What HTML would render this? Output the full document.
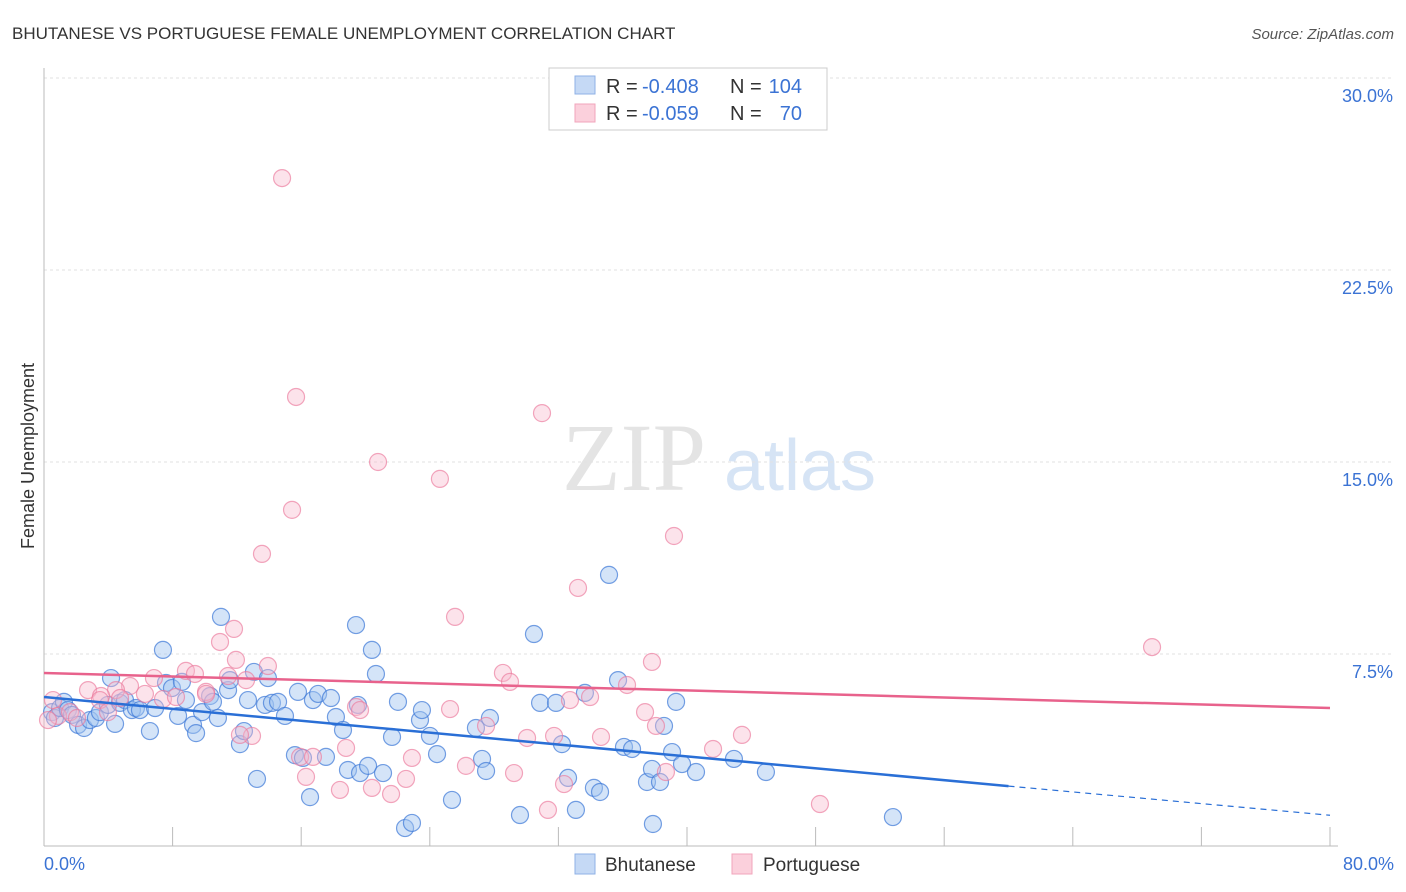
<!DOCTYPE html>
<html><head><meta charset="utf-8"><style>
body{margin:0;background:#fff;font-family:"Liberation Sans",sans-serif}
</style></head><body>
<svg width="1406" height="892" style="display:block">
<text x="12" y="39" font-size="17" fill="#333">BHUTANESE VS PORTUGUESE FEMALE UNEMPLOYMENT CORRELATION CHART</text>
<text x="1394" y="39" font-size="15" fill="#555" text-anchor="end" font-style="italic">Source: ZipAtlas.com</text>
<text x="634" y="490" font-size="96" fill="#e4e4e4" font-family="Liberation Serif" text-anchor="middle">ZIP</text>
<text x="800" y="490" font-size="72" fill="#d6e4f5" text-anchor="middle">atlas</text>
<g id="grid"></g>
<line x1="44" y1="68" x2="44" y2="846" stroke="#bbb"/>
<line x1="44" y1="846" x2="1338" y2="846" stroke="#bbb"/>
<g id="xticks"></g>
<text x="34" y="456" font-size="18" fill="#333" text-anchor="middle" transform="rotate(-90 34 456)">Female Unemployment</text>
<text x="44" y="870" font-size="18" fill="#3b73d4">0.0%</text>
<text x="1394" y="870" font-size="18" fill="#3b73d4" text-anchor="end">80.0%</text>
<g id="pts"></g>
<g id="lines"></g>
<g>
<rect x="549" y="68" width="278" height="62" fill="#fff" stroke="#ccc"/>
<rect x="575" y="76" width="20" height="18" fill="#c5d9f5" stroke="#8fb1e6"/>
<rect x="575" y="104" width="20" height="18" fill="#fbd0dc" stroke="#f1a5bb"/>
<text x="606" y="93" font-size="20" fill="#333">R =</text>
<text x="642" y="93" font-size="20" fill="#3b73d4">-0.408</text>
<text x="730" y="93" font-size="20" fill="#333">N =</text>
<text x="802" y="93" font-size="20" fill="#3b73d4" text-anchor="end">104</text>
<text x="606" y="120" font-size="20" fill="#333">R =</text>
<text x="642" y="120" font-size="20" fill="#3b73d4">-0.059</text>
<text x="730" y="120" font-size="20" fill="#333">N =</text>
<text x="802" y="120" font-size="20" fill="#3b73d4" text-anchor="end">70</text>
</g>
<g>
<rect x="575" y="854" width="20" height="20" fill="#c5d9f5" stroke="#8fb1e6"/>
<text x="605" y="871" font-size="19" fill="#333">Bhutanese</text>
<rect x="732" y="854" width="20" height="20" fill="#fbd0dc" stroke="#f1a5bb"/>
<text x="763" y="871" font-size="19" fill="#333">Portuguese</text>
</g>
</svg>
<script>
const yTicks=[7.5,15,22.5,30];
const yTickLabels=["7.5%","15.0%","22.5%","30.0%"];
const xTicks=[8,16,24,32,40,48,56,64,72,80];
const bluePx=[[52,712],[55,718],[60,708],[64,702],[68,710],[72,715],[78,725],[84,728],[90,720],[96,718],[100,712],[108,705],[111,678],[115,724],[120,703],[125,700],[132,710],[136,708],[140,710],[150,731],[155,708],[163,650],[166,683],[172,688],[178,716],[182,682],[186,700],[193,725],[196,733],[202,712],[210,696],[213,702],[218,718],[221,617],[228,690],[230,680],[240,744],[244,731],[248,700],[254,672],[257,779],[265,705],[268,678],[272,703],[278,702],[285,716],[295,755],[298,692],[303,758],[310,797],[313,700],[318,694],[326,757],[331,698],[336,717],[343,730],[348,770],[356,625],[358,705],[360,773],[368,766],[372,650],[376,674],[383,773],[392,737],[398,702],[405,828],[412,823],[420,720],[422,710],[430,736],[437,754],[452,800],[476,728],[482,759],[486,771],[490,718],[520,815],[534,634],[540,703],[556,703],[562,744],[568,778],[576,810],[585,693],[594,788],[600,792],[609,575],[618,680],[624,747],[632,749],[647,782],[652,769],[653,824],[660,782],[664,726],[672,752],[676,702],[682,764],[696,772],[734,759],[766,772],[893,817]];
const pinkPx=[[282,178],[296,397],[542,413],[378,462],[440,479],[292,510],[674,536],[262,554],[578,588],[455,617],[234,629],[220,642],[1152,647],[652,662],[268,666],[186,671],[195,674],[228,676],[503,673],[510,682],[154,678],[130,686],[88,690],[116,690],[101,696],[145,694],[163,699],[176,697],[206,692],[246,680],[627,685],[590,697],[570,700],[450,709],[356,707],[360,710],[645,712],[656,726],[486,726],[53,700],[58,716],[48,720],[70,712],[77,718],[100,700],[252,736],[240,735],[346,748],[554,736],[601,737],[713,749],[742,735],[527,738],[300,757],[313,757],[306,777],[412,758],[466,766],[514,773],[666,772],[340,790],[391,794],[406,779],[564,784],[372,788],[548,810],[820,804],[236,660],[206,694],[120,698],[108,712]];
const blueX=bluePx.map(p=>+((p[0]-44)/1286*80).toFixed(2));
const blueY=bluePx.map(p=>+((846-p[1])/192*7.5).toFixed(2));
const pinkX=pinkPx.map(p=>+((p[0]-44)/1286*80).toFixed(2));
const pinkY=pinkPx.map(p=>+((846-p[1])/192*7.5).toFixed(2));
const blueFit=[5.82,2.34,1.2];
const pinkFit=[6.76,5.39];
const X=v=>44+v/80*1286, Y=v=>846-v/7.5*192;
const NS="http://www.w3.org/2000/svg";
function mk(t,a,parent){const e=document.createElementNS(NS,t);for(const k in a)e.setAttribute(k,a[k]);document.getElementById(parent).appendChild(e);return e;}
yTicks.forEach((t,i)=>{
 const l=mk('line',{x1:44,x2:1394,y1:Y(t),y2:Y(t),stroke:'#e2e2e2','stroke-dasharray':'3,3'},'grid');
 
 
 const tx=mk('text',{x:1393,y:Y(t)+24,'font-size':18,fill:'#3b73d4','text-anchor':'end'},'grid');
 tx.textContent=yTickLabels[i];
 
 
});
xTicks.forEach(t=>{
 const l=mk('line',{x1:X(t),x2:X(t),y1:827,y2:846,stroke:'#bbb'},'xticks');
 
 
});
blueX.forEach((x,i)=>{
 const c=mk('circle',{cx:X(x),cy:Y(blueY[i]),r:8.5,fill:'rgba(160,195,240,0.45)',stroke:'rgba(60,120,215,0.7)','stroke-width':1.2},'pts');
 
 
});
pinkX.forEach((x,i)=>{
 const c=mk('circle',{cx:X(x),cy:Y(pinkY[i]),r:8.5,fill:'rgba(248,185,205,0.4)',stroke:'rgba(235,120,155,0.65)','stroke-width':1.2},'pts');
 
 
});
let l1=mk('line',{x1:X(0),y1:Y(blueFit[0]),x2:X(60),y2:Y(blueFit[1]),stroke:'#2a6fd6','stroke-width':2.5},'lines');


let l2=mk('line',{x1:X(60),y1:Y(blueFit[1]),x2:X(80),y2:Y(blueFit[2]),stroke:'#2a6fd6','stroke-width':1.2,'stroke-dasharray':'6,5'},'lines');


let l3=mk('line',{x1:X(0),y1:Y(pinkFit[0]),x2:X(80),y2:Y(pinkFit[1]),stroke:'#e8628c','stroke-width':2.5},'lines');


</script>
</body></html>
